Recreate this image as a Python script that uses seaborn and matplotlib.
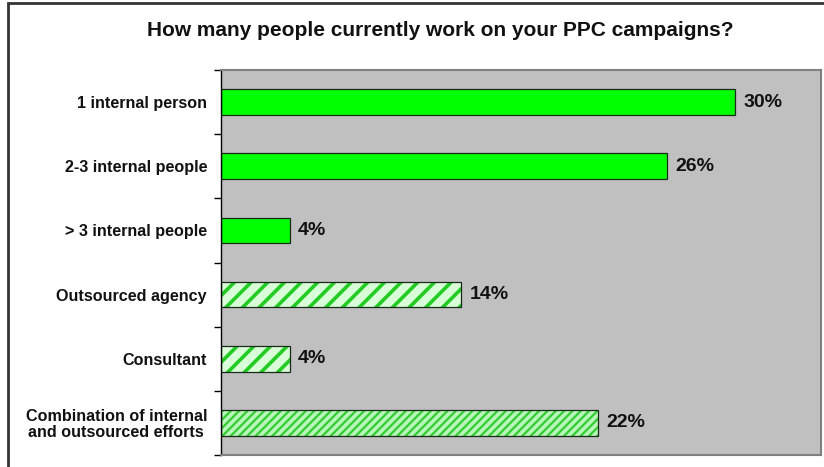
import numpy as np
import pandas as pd
import matplotlib

matplotlib.use("Agg")
import matplotlib.pyplot as plt
import seaborn as sns
from matplotlib.patches import Rectangle

# data
categories = [
    "1 internal person",
    "2-3 internal people",
    "> 3 internal people",
    "Outsourced agency",
    "Consultant",
    "Combination of internal\nand outsourced efforts",
]
shares = [30, 26, 4, 14, 4, 22]
title = "How many people currently work on your PPC campaigns?"

# bar fill styles (solid / wide stripes / fine stripes)
fill_styles = ["solid", "solid", "solid", "wide", "wide", "fine"]

sns.set_theme(style="white")
plt.rcParams["font.family"] = ["Liberation Sans", "DejaVu Sans"]

df = pd.DataFrame({"category": categories, "share": shares})

fig = plt.figure(figsize=(8.24, 4.67), dpi=100)
ax = fig.add_axes([221 / 824, 12 / 467, 600 / 824, 385 / 467])
ax.set_facecolor("#c0c0c0")

sns.barplot(
    data=df,
    x="share",
    y="category",
    hue="category",
    palette=["#00ff00"] * len(categories),
    orient="h",
    width=0.4,
    legend=False,
    ax=ax,
)

# style the bars: solid green or green diagonal stripes
for container, style in zip(ax.containers, fill_styles):
    for patch in container:
        if style == "solid":
            patch.set_facecolor("#00ff00")
            patch.set_edgecolor("#1a2a1a")
            patch.set_linewidth(0.9)
        else:
            patch.set_facecolor("#d8ffd8" if style == "wide" else "#b8f5b8")
            patch.set_edgecolor("#22cc22" if style == "wide" else "#33cc33")
            patch.set_linewidth(0)
            patch.set_hatch("//" if style == "wide" else "////")
            if hasattr(patch, "set_hatch_linewidth"):
                patch.set_hatch_linewidth(2.6 if style == "wide" else 1.6)
            x0, y0 = patch.get_xy()
            ax.add_patch(
                Rectangle(
                    (x0, y0),
                    patch.get_width(),
                    patch.get_height(),
                    fill=False,
                    edgecolor="#1a2a1a",
                    linewidth=0.9,
                    zorder=patch.get_zorder() + 0.1,
                )
            )

# value labels
for container, v in zip(ax.containers, shares):
    ax.bar_label(
        container,
        labels=[f"{v}%"],
        padding=6,
        fontsize=14,
        fontweight="bold",
        color="#111111",
    )

ax.set_xlim(0, 35)
ax.set_xticks([])
ax.set_xlabel("")
ax.set_ylabel("")

# category labels at centres, tick marks at category boundaries
ax.set_yticks(range(len(categories)))
ax.set_yticklabels(categories, fontsize=11.6, fontweight="bold", linespacing=1.05)
for lbl in ax.get_yticklabels():
    lbl.set_multialignment("center")
ax.tick_params(axis="y", which="major", length=0, pad=10, colors="#111111")
ax.set_yticks(np.arange(len(categories) + 1) - 0.5, minor=True)
ax.tick_params(axis="y", which="minor", left=True, length=5, width=1, color="black")

for side in ["top", "right", "bottom"]:
    ax.spines[side].set_color("#808080")
    ax.spines[side].set_linewidth(1.5)
ax.spines["left"].set_color("black")
ax.spines["left"].set_linewidth(1)

fig.text(
    440 / 824,
    1 - 30 / 467,
    title,
    ha="center",
    va="center",
    fontsize=15,
    fontweight="bold",
    color="#111111",
)

# outer chart border (cut off at the right/bottom like the reference)
fig.patches.append(
    Rectangle(
        (8 / 824, -0.1),
        1.2,
        1 - 3 / 467 + 0.1,
        transform=fig.transFigure,
        fill=False,
        edgecolor="#333333",
        linewidth=2,
    )
)

fig.savefig("out.png", dpi=100)
